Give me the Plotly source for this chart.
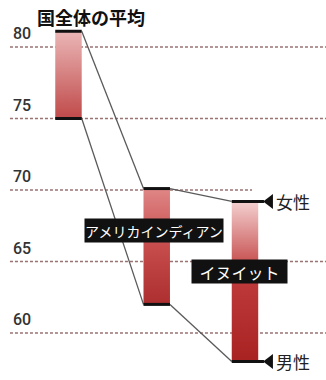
import plotly.graph_objects as go

# Life expectancy (years) by group: female (top of bar) and male (bottom of bar)
categories = ["国全体の平均", "アメリカインディアン", "イヌイット"]
female = [81.1, 70.1, 69.2]
male = [75.0, 62.0, 58.0]
tick_values = [80, 75, 70, 65, 60]
tick_labels = ["80", "75", "70", "65", "60"]
sex_labels = ["女性", "男性"]

W, H = 326, 380
X_RANGE = [-0.776, 2.918]
Y_RANGE = [56.713, 83.287]
BAR_HALF = 0.15
JP_FONT = "Noto Sans CJK JP"

bar_scales = [
    [[0, "#c04a4a"], [1, "#ebb6b6"]],
    [[0, "#ad2e2e"], [0.5, "#c64c4c"], [1, "#e08686"]],
    [[0, "#a82222"], [0.55, "#c03c3c"], [1, "#f4d0d0"]],
]

fig = go.Figure()

# dashed horizontal guides (the 70 line stops short of the female label)
for v in tick_values:
    x_end = 2.08 if v == 70 else X_RANGE[1]
    fig.add_trace(go.Scatter(
        x=[-0.663, x_end], y=[v, v], mode="lines",
        line=dict(color="#9a7272", width=1.7, dash="3px,2px"),
        hoverinfo="skip", showlegend=False))

# connectors between neighbouring bars
for i in range(len(categories) - 1):
    for series in (female, male):
        fig.add_trace(go.Scatter(
            x=[i + BAR_HALF, i + 1 - BAR_HALF], y=[series[i], series[i + 1]],
            mode="lines", line=dict(color="#5a5a5a", width=1.3),
            hoverinfo="skip", showlegend=False))

# gradient-filled range bars
for i, name in enumerate(categories):
    x0, x1 = i - BAR_HALF, i + BAR_HALF
    fig.add_trace(go.Scatter(
        x=[x0, x1, x1, x0, x0], y=[male[i], male[i], female[i], female[i], male[i]],
        mode="lines", line=dict(width=0), fill="toself",
        fillgradient=dict(type="vertical", colorscale=bar_scales[i]),
        name=name, hoverinfo="skip", showlegend=False))

# black caps at both ends of each bar; the last bar's caps lead to the sex labels
last = len(categories) - 1
for i in range(len(categories)):
    x0 = i - BAR_HALF
    x1 = i + 0.215 if i == last else i + BAR_HALF
    for series in (female, male):
        fig.add_trace(go.Scatter(
            x=[x0, x1], y=[series[i], series[i]], mode="lines",
            line=dict(color="#111111", width=3),
            hoverinfo="skip", showlegend=False))

fig.add_trace(go.Scatter(
    x=[last + 0.28, last + 0.28], y=[female[last], male[last]], mode="markers",
    marker=dict(symbol="triangle-left", size=13, color="#111111"),
    hoverinfo="skip", showlegend=False))

annotations = []
for label, val in zip(sex_labels, [female[last], male[last]]):
    annotations.append(dict(
        x=last + 0.33, y=val, xref="x", yref="y", text=label, showarrow=False,
        xanchor="left", yanchor="middle",
        font=dict(family=JP_FONT, size=17, color="#222222")))

# y tick labels sit just above each guide line
for v, t in zip(tick_values, tick_labels):
    annotations.append(dict(
        x=11 / W, y=v, xref="paper", yref="y", text=t, showarrow=False,
        xanchor="left", yanchor="bottom", yshift=2,
        font=dict(family="Roboto", size=16, color="#333333", weight=500)))

# group labels
annotations.append(dict(
    x=35 / W, y=1 - 17 / H, xref="paper", yref="paper", text="<b>" + categories[0] + "</b>",
    showarrow=False, xanchor="left", yanchor="middle",
    font=dict(family=JP_FONT, size=18, color="#111111")))
annotations.append(dict(
    x=0.97, y=67.2, xref="x", yref="y", text=categories[1], showarrow=False,
    xanchor="center", yanchor="middle", bgcolor="#111111", borderpad=1,
    width=136, height=21,
    font=dict(family=JP_FONT, size=14, color="#ffffff")))
annotations.append(dict(
    x=1.94, y=64.27, xref="x", yref="y", text=categories[2], showarrow=False,
    xanchor="center", yanchor="middle", bgcolor="#111111", borderpad=1,
    width=93, height=21,
    font=dict(family=JP_FONT, size=16, color="#ffffff")))

fig.update_layout(
    width=W, height=H, margin=dict(l=0, r=0, t=0, b=0),
    paper_bgcolor="#ffffff", plot_bgcolor="#ffffff",
    xaxis=dict(range=X_RANGE, visible=False, fixedrange=True),
    yaxis=dict(range=Y_RANGE, visible=False, fixedrange=True),
    annotations=annotations, showlegend=False)

fig.write_html("out.html")
